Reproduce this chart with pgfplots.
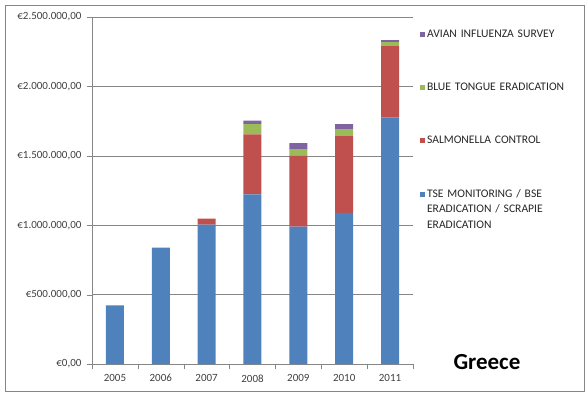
\documentclass[border=0pt]{standalone}
\usepackage{fontspec}
\setmainfont{Carlito}
\usepackage{pgfplots}
\pgfplotsset{compat=1.18}
\usepackage{pgfplotstable}

\definecolor{tseblue}{HTML}{4F81BD}
\definecolor{salmred}{HTML}{C0504D}
\definecolor{btgreen}{HTML}{9BBB59}
\definecolor{avpurple}{HTML}{8064A2}
\definecolor{gridgray}{HTML}{868686}

% values in euro
\pgfplotstableread{
x  tse      salm    blue   avian
0  422000   0       0      0
1  838000   0       0      0
2  1005000  43000   0      0
3  1222000  432000  75000  25000
4  990000   510000  48000  43000
5  1089000  553000  51000  36000
6  1777000  513000  29000  14000
}\greece

\begin{document}
\begin{tikzpicture}
\useasboundingbox (0,0) rectangle (585pt,-394pt);
\draw[gridgray, line width=0.8pt] (5pt,-5pt) rectangle (584pt,-391pt);
\begin{axis}[
    scale only axis,
    width=321pt, height=347pt,
    at={(92pt,-364pt)}, anchor=south west,
    ybar stacked,
    bar width=18pt,
    xmin=-0.5, xmax=6.5,
    ymin=0, ymax=2500000,
    scaled y ticks=false,
    axis x line*=bottom,
    axis y line*=left,
    axis line style={gridgray, -},
    xtick={0,...,6},
    xticklabels={2005,2006,2007,2008,2009,2010,2011},
    minor xtick={-0.5,0.5,...,6.5},
    ytick={0,500000,1000000,1500000,2000000,2500000},
    yticklabels={{€0,00},{€500.000,00},{€1.000.000,00},{€1.500.000,00},{€2.000.000,00},{€2.500.000,00}},
    tick align=outside,
    x tick style={draw=none},
    minor x tick style={draw=gridgray},
    minor tick length=5pt,
    y tick style={gridgray},
    major tick length=5pt,
    ymajorgrids=true,
    grid style={gridgray, line width=0.6pt},
    tick label style={font=\fontsize{11}{13}\selectfont, text=black!75},
    xticklabel style={yshift=-2pt},
    yticklabel style={xshift=-2pt},
    reverse legend,
    legend cell align=left,
    legend style={draw=none, fill=none, at={(1.012,0.974)}, anchor=north west,
        font=\fontsize{11.6}{15.5}\selectfont, text=black!85, row sep=40pt,
        nodes={text width=140pt, align=left}},
    legend image code/.code={\fill[#1] (0pt,-2.5pt) rectangle (5pt,2.5pt);},
]
\addplot[fill=tseblue, draw=none] table[x=x, y=tse] {\greece};
\addplot[fill=salmred, draw=none] table[x=x, y=salm] {\greece};
\addplot[fill=btgreen, draw=none] table[x=x, y=blue] {\greece};
\addplot[fill=avpurple, draw=none] table[x=x, y=avian] {\greece};
\legend{TSE MONITORING / BSE\\ERADICATION / SCRAPIE\\ERADICATION, SALMONELLA CONTROL, BLUE TONGUE ERADICATION, AVIAN INFLUENZA SURVEY}
\end{axis}
\node[font=\fontsize{23}{26}\selectfont\bfseries] at (487pt,-362pt) {Greece};
\end{tikzpicture}
\end{document}
